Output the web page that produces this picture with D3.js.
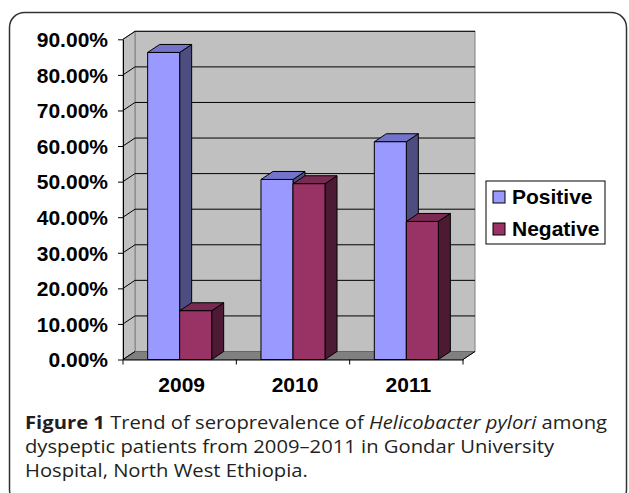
<!DOCTYPE html>
<html>
<head>
<meta charset="utf-8">
<script src="https://cdn.jsdelivr.net/npm/d3@7"></script>
<style>
  body { margin: 0; background: #fff; }
  svg { display: block; }
</style>
</head>
<body>
<div id="vis"></div>
<script>
const years = ["2009", "2010", "2011"];
const series = ["Positive", "Negative"];
const positive = [0.863, 0.506, 0.612];
const negative = [0.137, 0.494, 0.388];
const yTicks = [0, 0.1, 0.2, 0.3, 0.4, 0.5, 0.6, 0.7, 0.8, 0.9];
const captionLines = [
  [{ t: "Figure 1", w: "bold" }, { t: " Trend of seroprevalence of " }, { t: "Helicobacter pylori", i: true }, { t: " among" }],
  [{ t: "dyspeptic patients from 2009\u20132011 in Gondar University" }],
  [{ t: "Hospital, North West Ethiopia." }]
];

const data = years.map((y, i) => ({ year: y, values: [positive[i], negative[i]] }));

const colors = {
  Positive: { front: "#9999ff", top: "#7373cc", side: "#4d4d80" },
  Negative: { front: "#993366", top: "#7a2952", side: "#4d1a33" }
};

const W = 629, H = 493;
const dx = 12, dy = -8;

const svg = d3.select("#vis").append("svg")
  .attr("width", W)
  .attr("height", H);

// outer frame
svg.append("rect")
  .attr("x", 9.5).attr("y", 12.5)
  .attr("width", 617).attr("height", 492)
  .attr("rx", 15)
  .attr("fill", "none")
  .attr("stroke", "#333")
  .attr("stroke-width", 1.5);

const x = d3.scaleBand()
  .domain(years)
  .range([123, 463])
  .paddingInner(0.435)
  .paddingOuter(0.2175);

const xCat = d3.scaleBand().domain(years).range([123, 463]);

const xSub = d3.scaleBand()
  .domain(series)
  .range([0, x.bandwidth()]);

const y = d3.scaleLinear()
  .domain([0, 0.9])
  .range([359.5, 39.3]);

const x0 = 123, x1 = 463;
const yb = y(0), yt = y(0.9);

// back wall
svg.append("rect")
  .attr("x", x0 + dx).attr("y", yt + dy)
  .attr("width", x1 - x0).attr("height", yb - yt)
  .attr("fill", "#c0c0c0")
  .attr("stroke", "#808080");

// side wall
svg.append("polygon")
  .attr("points", [[x0, yb], [x0, yt], [x0 + dx, yt + dy], [x0 + dx, yb + dy]].join(" "))
  .attr("fill", "#c0c0c0")
  .attr("stroke", "#808080");

// floor
svg.append("polygon")
  .attr("points", [[x0, yb], [x1, yb], [x1 + dx, yb + dy], [x0 + dx, yb + dy]].join(" "))
  .attr("fill", "#808080")
  .attr("stroke", "#666");

// gridlines on back wall and side wall
const grid = svg.append("g").attr("stroke", "#000").attr("stroke-width", 1);
yTicks.filter(t => t > 0).forEach(t => {
  grid.append("line")
    .attr("x1", x0 + dx).attr("x2", x1 + dx)
    .attr("y1", y(t) + dy).attr("y2", y(t) + dy);
});
yTicks.forEach(t => {
  grid.append("line")
    .attr("x1", x0).attr("x2", x0 + dx)
    .attr("y1", y(t)).attr("y2", y(t) + dy);
});

// bars
data.forEach(d => {
  d.values.forEach((v, j) => {
    const s = series[j];
    const bx = x(d.year) + xSub(s);
    const bw = xSub.bandwidth();
    const top = y(v);
    const c = colors[s];
    const g = svg.append("g").attr("stroke", "#000").attr("stroke-width", 1).attr("stroke-linejoin", "round");
    g.append("polygon")
      .attr("points", [[bx + bw, top], [bx + bw + dx, top + dy], [bx + bw + dx, yb + dy], [bx + bw, yb]].join(" "))
      .attr("fill", c.side);
    g.append("polygon")
      .attr("points", [[bx, top], [bx + dx, top + dy], [bx + bw + dx, top + dy], [bx + bw, top]].join(" "))
      .attr("fill", c.top);
    g.append("rect")
      .attr("x", bx).attr("y", top)
      .attr("width", bw).attr("height", yb - top)
      .attr("fill", c.front);
  });
});

// y axis
const yAxis = svg.append("g")
  .attr("transform", `translate(${x0},0)`)
  .call(d3.axisLeft(y).tickValues(yTicks).tickSize(5).tickSizeOuter(0).tickPadding(10)
    .tickFormat(d3.format(".2%")));
yAxis.select(".domain").attr("stroke", "#000");
yAxis.selectAll(".tick line").attr("stroke", "#000");
yAxis.selectAll("text")
  .attr("font-family", "'Liberation Sans', Arial, sans-serif")
  .attr("font-weight", "bold")
  .attr("font-size", 21)
  .attr("fill", "#000")
  .attr("dy", "0.35em");

// x axis
const xAxis = svg.append("g")
  .attr("transform", `translate(0,${yb})`)
  .call(d3.axisBottom(xCat).tickSize(0).tickSizeOuter(0).tickPadding(18));
xAxis.select(".domain").attr("stroke", "#000");
xAxis.selectAll("text")
  .attr("font-family", "'Liberation Sans', Arial, sans-serif")
  .attr("font-weight", "bold")
  .attr("font-size", 21)
  .attr("fill", "#000")
  .attr("dx", 2);
xAxis.selectAll(".catTick")
  .data(years.concat(["end"]))
  .join("line")
  .attr("class", "catTick")
  .attr("x1", (d, i) => i < years.length ? xCat(d) : x1)
  .attr("x2", (d, i) => i < years.length ? xCat(d) : x1)
  .attr("y1", 0).attr("y2", 5)
  .attr("stroke", "#000");
svg.append("line")
  .attr("x1", x1).attr("y1", yb)
  .attr("x2", x1 + dx).attr("y2", yb + dy)
  .attr("stroke", "#000");

// legend
const lg = svg.append("g").attr("transform", "translate(486,181)");
lg.append("rect")
  .attr("width", 119).attr("height", 63)
  .attr("fill", "#fff").attr("stroke", "#000");
series.forEach((s, i) => {
  const row = lg.append("g").attr("transform", `translate(7,${10 + i * 32})`);
  row.append("rect")
    .attr("width", 12).attr("height", 12)
    .attr("fill", colors[s].front)
    .attr("stroke", "#000");
  row.append("text")
    .attr("x", 19).attr("y", 13)
    .attr("font-family", "'Liberation Sans', Arial, sans-serif")
    .attr("font-weight", "bold")
    .attr("font-size", 21)
    .text(s);
});

// caption (glyphs in the reference are slightly wide, so stretch to the measured line width)
const capG = svg.append("g");
const cap = capG.append("text")
  .attr("font-family", "'Open Sans', 'Noto Sans', sans-serif")
  .attr("font-size", 18)
  .attr("font-weight", 500)
  .attr("fill", "#231f20");
captionLines.forEach((line, i) => {
  line.forEach((part, k) => {
    const ts = cap.append("tspan").text(part.t);
    if (k === 0) ts.attr("x", 0).attr("y", 429 + i * 24);
    if (part.w) ts.attr("font-weight", part.w);
    if (part.i) ts.attr("font-style", "italic");
  });
});
const capW = cap.node().getBBox().width;
const sx = 583 / capW;
capG.attr("transform", `translate(25,0) scale(${sx},1)`);
</script>
</body>
</html>
